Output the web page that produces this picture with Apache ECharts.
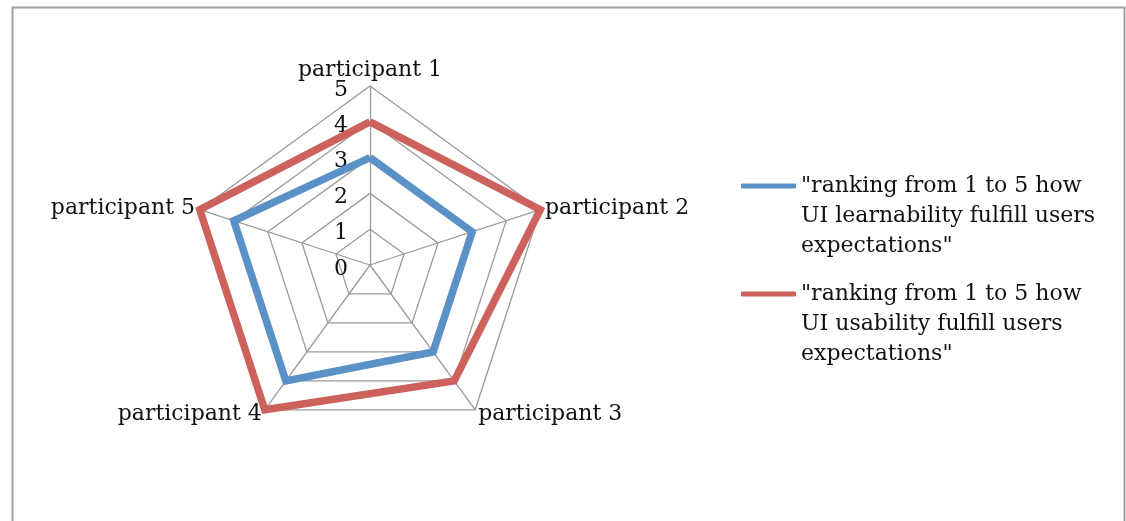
<!DOCTYPE html>
<html>
<head>
<meta charset="utf-8">
<script src="https://cdn.jsdelivr.net/npm/echarts@6/dist/echarts.min.js"></script>
<style>
html,body{margin:0;padding:0;background:#fff;}
#chart{width:1126px;height:521px;}
</style>
</head>
<body>
<div id="chart"></div>
<script>
var categories = ['participant 1', 'participant 2', 'participant 3', 'participant 4', 'participant 5'];
var learnability = [3, 3, 3, 4, 4];
var usability = [4, 5, 4, 5, 5];
var seriesNames = [
  '"ranking from 1 to 5 how\nUI learnability fulfill users\nexpectations"',
  '"ranking from 1 to 5 how\nUI usability fulfill users\nexpectations"'
];
var tickLabels = ['0', '1', '2', '3', '4', '5'];

// ECharts radar runs counter-clockwise; reorder so categories go clockwise
var order = [0, 4, 3, 2, 1];
function reorder(arr) { return order.map(function (i) { return arr[i]; }); }

var FONT = 'DejaVu Serif';
var chart = echarts.init(document.getElementById('chart'));
var legendText = { fontFamily: FONT, fontSize: 22, color: '#111', lineHeight: 30 };
function legendFmt(name) { return '\n\n' + name; }
chart.setOption({
  animation: false,
  backgroundColor: '#fff',
  graphic: [{
    type: 'rect', left: 10, top: 5,
    shape: { width: 1112, height: 540 },
    style: { fill: 'none', stroke: '#a0a0a0', lineWidth: 2 }
  }],
  legend: [{
    data: [seriesNames[0]], orient: 'vertical', left: 736, top: 106,
    icon: 'roundRect', itemWidth: 55, itemHeight: 5, itemGap: 0,
    formatter: legendFmt, textStyle: legendText
  }, {
    data: [seriesNames[1]], orient: 'vertical', left: 736, top: 214,
    icon: 'roundRect', itemWidth: 55, itemHeight: 5, itemGap: 0,
    formatter: legendFmt, textStyle: legendText
  }],
  radar: {
    center: [370, 265], radius: 179, startAngle: 90, shape: 'polygon',
    splitNumber: 5,
    indicator: reorder(categories).map(function (c) { return { name: c, min: 0, max: 5 }; }),
    axisName: { color: '#111', fontFamily: FONT, fontSize: 22 },
    nameGap: 5,
    axisLine: { lineStyle: { color: '#9a9a9a', width: 1.3 } },
    splitLine: { lineStyle: { color: '#9a9a9a', width: 1.3 } },
    splitArea: { show: false },
    axisTick: { show: false },
    axisLabel: { show: false }
  },
  polar: { center: [370, 265], radius: 179 },
  angleAxis: { show: false, startAngle: 90, min: 0, max: 360 },
  radiusAxis: {
    type: 'category', data: tickLabels, boundaryGap: false,
    axisLine: { show: false }, axisTick: { show: false }, splitLine: { show: false },
    axisLabel: { show: true, margin: 22, color: '#111', fontFamily: FONT, fontSize: 22,
      verticalAlign: 'top', lineHeight: 8 }
  },
  series: [{
    type: 'radar', name: seriesNames[0], symbol: 'none',
    lineStyle: { color: '#5a92c8', width: 7.5, join: 'miter' },
    itemStyle: { color: '#5a92c8' },
    data: [{ value: reorder(learnability), name: seriesNames[0] }]
  }, {
    type: 'radar', name: seriesNames[1], symbol: 'none',
    lineStyle: { color: '#cc625b', width: 7.5, join: 'miter' },
    itemStyle: { color: '#cc625b' },
    data: [{ value: reorder(usability), name: seriesNames[1] }]
  }]
});
</script>
</body>
</html>
